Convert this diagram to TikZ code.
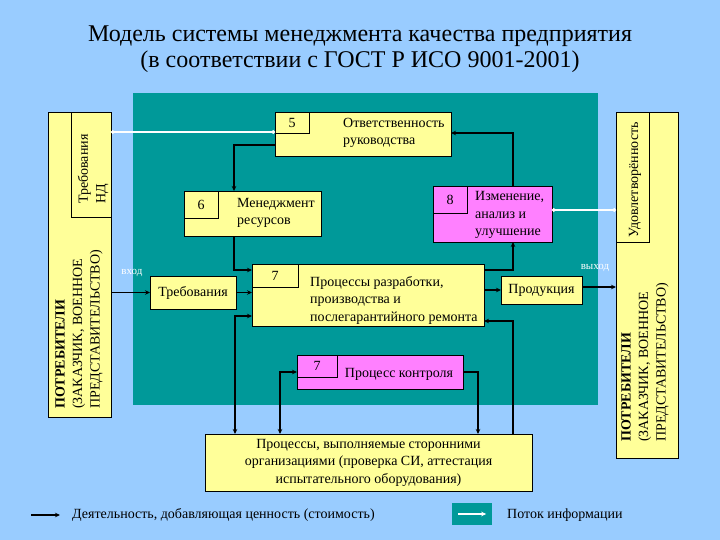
\documentclass[tikz,border=0pt]{standalone}
\usepackage{fontspec}
\setmainfont{Liberation Serif}
\usetikzlibrary{arrows.meta,calc}
\definecolor{bgblue}{RGB}{153,204,255}
\definecolor{tealp}{RGB}{0,153,153}
\definecolor{yel}{RGB}{255,255,153}
\definecolor{mag}{RGB}{255,128,255}
\tikzset{
 box/.style={draw=black, line width=0.8pt, inner sep=0pt, outer sep=0pt, anchor=center},
 sz/.style 2 args={minimum width=#1pt, minimum height=#2pt},
 ybox/.style={box, fill=yel},
 mbox/.style={box, fill=mag},
 txt/.style={font=\fontsize{14}{17.5}\selectfont, inner sep=0pt, align=left},
 vtxt/.style={font=\fontsize{14}{17.5}\selectfont, inner sep=0pt, align=left, rotate=90, anchor=west},
 flow/.style={draw=black, line width=1.3pt, -{Stealth[length=5pt,width=4.5pt]}},
 flow2/.style={draw=black, line width=1.3pt, {Stealth[length=5pt,width=4.5pt]}-{Stealth[length=5pt,width=4.5pt]}},
 info/.style={draw=white, line width=1.5pt, {Circle[length=3.5pt]}-{Circle[length=3.5pt]}},
 lbl/.style={font=\fontsize{11}{12}\selectfont, text=white, inner sep=0pt},
}
\begin{document}
\begin{tikzpicture}[x=1pt,y=-1pt]
\useasboundingbox (0,0) rectangle (720,540);
\fill[bgblue] (0,0) rectangle (720,540);
\fill[tealp] (133,93) rectangle (598,405);

% title
\node[font=\fontsize{24}{26}\selectfont, inner sep=0pt] (t1) at (360,36) {Модель системы менеджмента качества предприятия};
\node[font=\fontsize{24}{26}\selectfont, inner sep=0pt] (t2) at (360,62) {(в соответствии с ГОСТ Р ИСО 9001-2001)};

% customer boxes
\node[ybox, sz={63}{305}] (L) at (79.5,264.5) {};
\node[ybox, sz={40}{105}] (linner) at (91,164.5) {};
\node[vtxt] (ltxt) at (79,409) {\textbf{ПОТРЕБИТЕЛИ}\\(ЗАКАЗЧИК, ВОЕННОЕ\\ПРЕДСТАВИТЕЛЬСТВО)};
\node[vtxt] (litxt) at (93,204) {Требования\\НД};

\node[ybox, sz={62}{346}] (R) at (647,285) {};
\node[ybox, sz={33}{130}] (rinner) at (632.5,177) {};
\node[vtxt] (rtxt) at (645,442) {\textbf{ПОТРЕБИТЕЛИ}\\(ЗАКАЗЧИК, ВОЕННОЕ\\ПРЕДСТАВИТЕЛЬСТВО)};
\node[vtxt] (ritxt) at (635,238) {Удовлетворённость};

% box 5
\node[ybox, sz={176}{44}] (b5) at (363,134) {};
\node[ybox, sz={34}{21}, txt, align=center] (n5) at (292,122.5) {5};
\node[txt, anchor=west] (t5) at (343,133) {Ответственность\\руководства};

% box 6
\node[ybox, sz={137}{45}] (b6) at (252.5,213.5) {};
\node[ybox, sz={34}{27}, txt, align=center] (n6) at (201,204.5) {6};
\node[txt, anchor=west] (t6) at (237,213) {Менеджмент\\ресурсов};

% box 8
\node[mbox, sz={119}{56}] (b8) at (492.5,214) {};
\node[mbox, sz={34}{27}, txt, align=center] (n8) at (450,199.5) {8};
\node[txt, anchor=west] (t8) at (475,215) {Изменение,\\анализ и\\улучшение};

% Требования
\node[ybox, sz={86}{33}, txt, align=center] (treb) at (193,292.5) {Требования};

% box 7
\node[ybox, sz={232}{62}] (b7) at (368,295) {};
\node[ybox, sz={46}{23}, txt, align=center] (n7) at (275,275.5) {7};
\node[txt, anchor=west] (t7) at (310,300) {Процессы разработки,\\производства и\\послегарантийного ремонта};

% Продукция
\node[ybox, sz={81}{28}, txt, align=center] (prod) at (541.5,290) {Продукция};

% control
\node[mbox, sz={166}{34}] (ctrl) at (380,372) {};
\node[mbox, sz={40}{22}, txt, align=center] (nc) at (317,366) {7};
\node[txt] (tc) at (399,374) {Процесс контроля};

% bottom
\node[ybox, sz={327}{57}, txt, align=center] (bot) at (368.5,462.5) {Процессы, выполняемые сторонними\\организациями (проверка СИ, аттестация\\испытательного оборудования)};

% labels
\node[lbl] (vin) at (132,273) {вход};
\node[lbl] (vout) at (595,268) {выход};

% info flows
\path ([yshift=32.5pt]linner.east) coordinate (c1);
\draw[info] (c1) -- (c1 -| b5.west);
\path ([yshift=4pt]b8.east) coordinate (c2);
\draw[info] (c2) -- (c2 -| rinner.west);

% flows
\draw[flow] ([yshift=-11pt]b5.west) -| ([xshift=-18.5pt]b6.north);
\draw[flow] ([xshift=20.5pt]b8.north) |- ([yshift=1pt]b5.east);
\draw[flow] ([xshift=-18.5pt]b6.south) |- ([yshift=25pt]b7.west);
\draw[flow] (treb.east) -- (treb.east -| b7.west);
\draw[flow] (L.east |- treb.west) -- (treb.west);
\draw[flow2] ([yshift=-21pt]b7.west) -| ([xshift=-133.5pt]bot.north);
\draw[flow2] ([xshift=-88.5pt]bot.north) |- (ctrl.west);
\draw[flow] (ctrl.east) -| ([xshift=109.5pt]bot.north);
\draw[flow] (prod.west -| b7.east) -- (prod.west);
\draw[flow] ([yshift=25pt]b7.east) -| ([xshift=20.5pt]b8.south);
\path ([yshift=3pt]prod.east) coordinate (c3);
\draw[flow] (c3) -- (c3 -| R.west);
\draw[flow] ([xshift=144.5pt]bot.north) |- ([yshift=-26pt]b7.east);

% legend
\coordinate (la) at (31,515);
\coordinate (lb) at (60,515);
\draw[flow] (la) -- (lb);
\node[txt, anchor=west] (lt1) at (72,515) {Деятельность, добавляющая ценность (стоимость)};
\node[fill=tealp, sz={40}{22}, inner sep=0pt] (lgbox) at (472,514) {};
\draw[draw=white, line width=1.5pt, -{Stealth[length=5pt,width=4.5pt]}] ([xshift=6pt]lgbox.west) -- ([xshift=-6pt]lgbox.east);
\node[txt, anchor=west] (lt2) at (507,515) {Поток информации};
\end{tikzpicture}
\end{document}
